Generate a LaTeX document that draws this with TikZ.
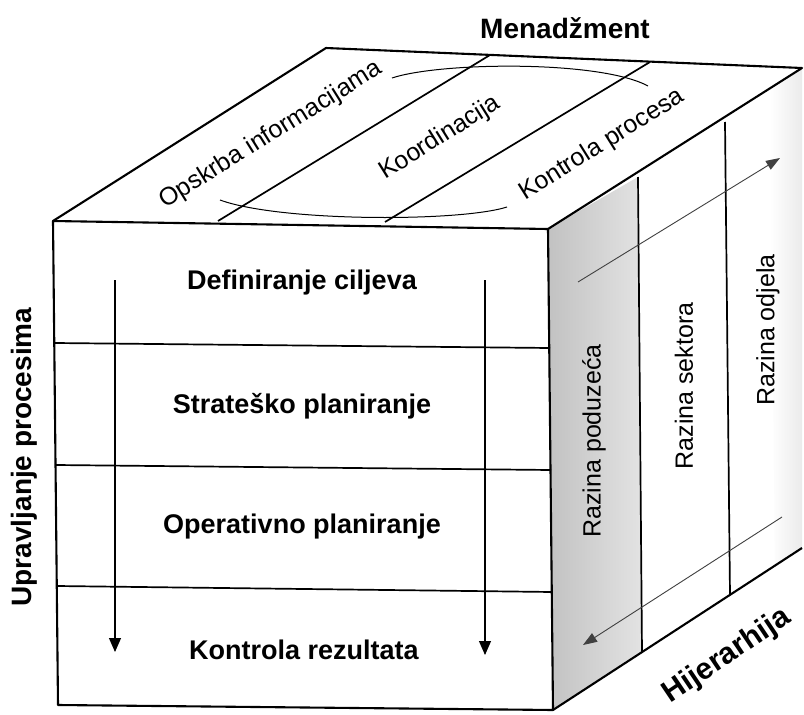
\documentclass[tikz,border=0pt]{standalone}
\usepackage{fontspec}
\setmainfont{Liberation Sans}
\usetikzlibrary{arrows.meta}

\tikzset{
    edge/.style={line width=2.1pt, line join=round},
    split/.style={line width=1.7pt},
    flow/.style={line width=1.1pt, -{Triangle[length=14pt,width=12pt]}},
    level/.style={line width=0.9pt, black!75, -{Triangle[length=14pt,width=10pt]}},
    boldlabel/.style={font=\bfseries\fontsize{27}{32}\selectfont},
    facelabel/.style={font=\fontsize{25}{30}\selectfont}
}

\begin{document}
\begin{tikzpicture}[x=1pt,y=-1pt]
                        \useasboundingbox (0,0) rectangle (804,715);

                        % right face
                        \fill[white] (548,229) -- (802,68) -- (802,548) -- (553,710) -- cycle;
                        \shade[left color=black!24, right color=black!11] (548,229) -- (638,177) -- (642,652) -- (553,710) -- cycle;
                        \shade[left color=white, right color=black!8] (770,88) -- (802,68) -- (802,548) -- (775,566) -- cycle;

                        % outline
                        \draw[edge] (53,221) -- (326,48) -- (802,68) -- (548,229);
                        \draw[edge] (53,221) -- (548,229) -- (553,710) -- (58,705) -- cycle;
                        \draw[edge] (553,710) -- (802,548);

                        % stripes
                        \draw[split] (218,221) -- (490,55);
                        \draw[split] (385,222) -- (650,62);
                        \draw[split] (55,343) -- (550,348);
                        \draw[split] (56,465) -- (551,470);
                        \draw[split] (57,586) -- (552,592);
                        \draw[split] (638,177) -- (642,652);
                        \draw[split] (725,122) -- (730,595);

                        % loop on top
                        \draw[line width=1pt] (392,78) .. controls (440,62) and (600,60) .. (648,86);
                        \draw[line width=1pt] (220,200) .. controls (280,222) and (460,222) .. (507,207);

                        \draw[flow] (115,280) -- (115,652);
                        \draw[flow] (485,280) -- (485,655);
                        \draw[level] (578,282) -- (780,158);
                        \draw[level] (782,517) -- (583,645);

                        \node[boldlabel, font=\bfseries\fontsize{28}{32}\selectfont] (menadzment) at (565,28) {Menadžment};
                        \node[boldlabel, font=\bfseries\fontsize{28}{32}\selectfont, rotate=90] (upravljanje) at (24,457) {Upravljanje procesima};
                        \node[boldlabel, font=\bfseries\fontsize{30}{34}\selectfont, rotate=34] (hijerarhija) at (727,656) {Hijerarhija};

                        \node[facelabel, rotate=32] (opskrba) at (271,135) {Opskrba informacijama};
                        \node[facelabel, rotate=32] (koordinacija) at (440,138) {Koordinacija};
                        \node[facelabel, rotate=32] (kontrola) at (602,145) {Kontrola procesa};

                        \node[boldlabel] (ciljevi) at (302,283) {Definiranje ciljeva};
                        \node[boldlabel] (strategija) at (302,406) {Strateško planiranje};
                        \node[boldlabel] (operativa) at (302,527) {Operativno planiranje};
                        \node[boldlabel] (rezultati) at (304,650) {Kontrola rezultata};

                        \node[facelabel, rotate=90] (poduzece) at (594,441) {Razina poduzeća};
                        \node[facelabel, rotate=90] (sektor) at (684,386) {Razina sektora};
                        \node[facelabel, rotate=90] (odjel) at (768,330) {Razina odjela};
                    \end{tikzpicture}
\end{document}
